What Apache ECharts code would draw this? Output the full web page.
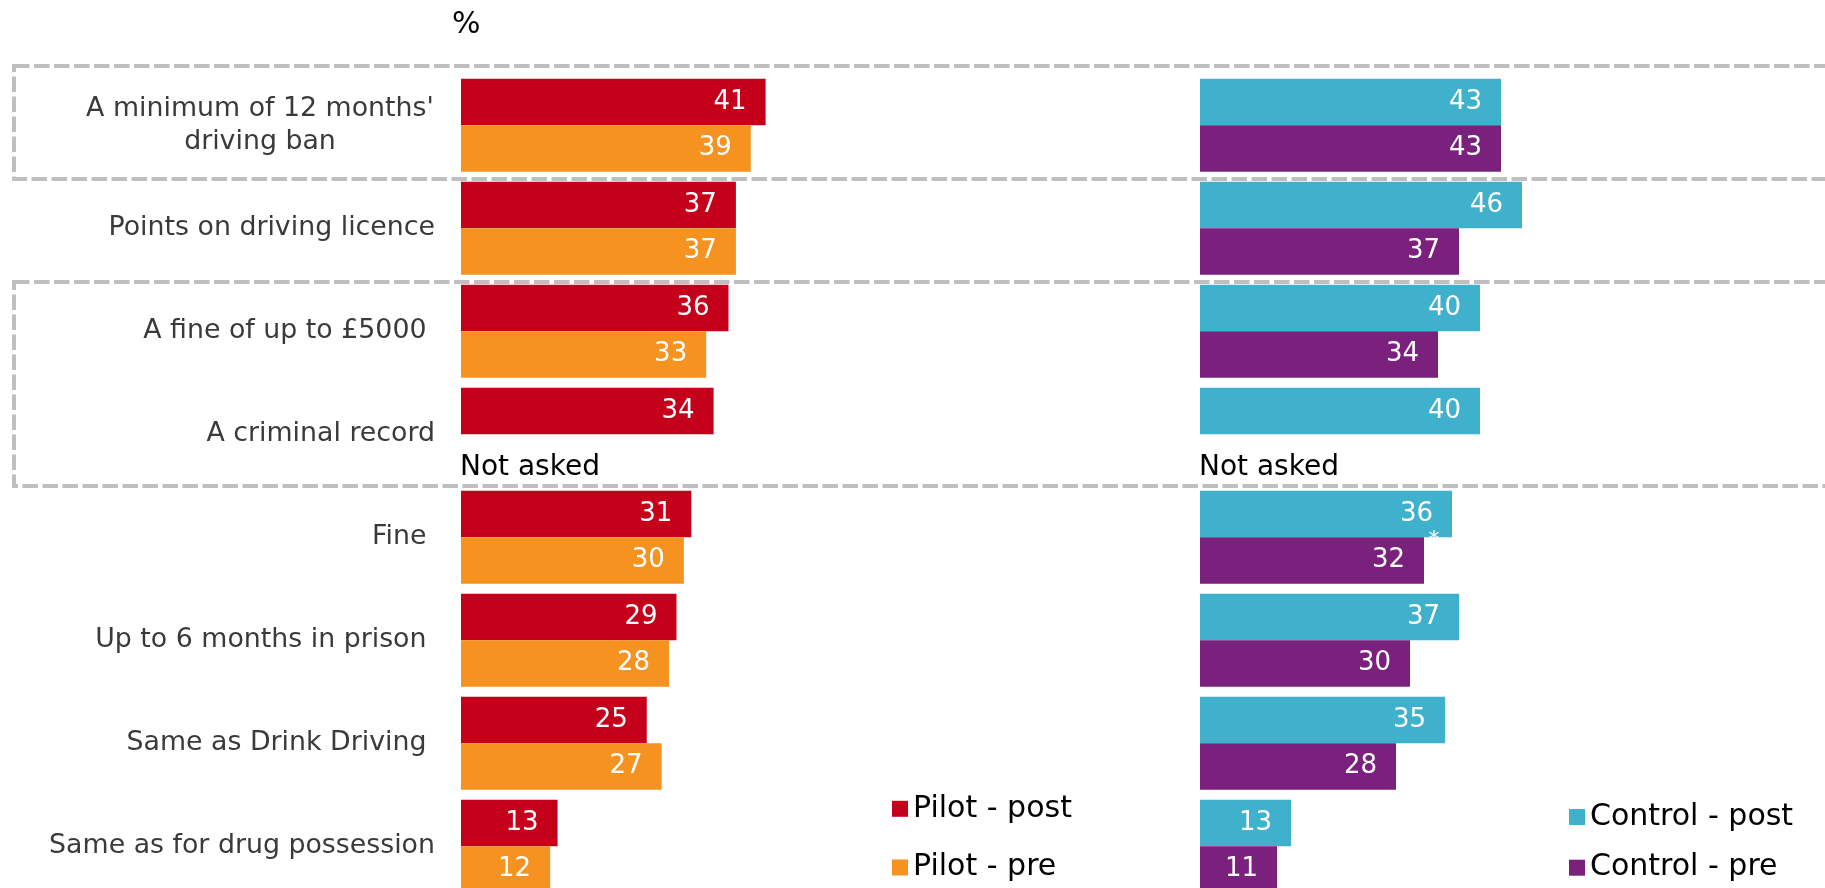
<!DOCTYPE html>
<html>
<head>
<meta charset="utf-8">
<script src="https://cdn.jsdelivr.net/npm/echarts@6/dist/echarts.min.js"></script>
<style>
  html, body { margin: 0; padding: 0; background: #fff; overflow: hidden; }
  #chart { width: 1825px; height: 888px; }
</style>
</head>
<body>
<div id="chart"></div>
<script>
// categories, top to bottom (trailing spaces kept as in the source labels)
const categories = [
  "A minimum of 12 months'\ndriving ban",
  "Points on driving licence",
  "A fine of up to £5000 ",
  "A criminal record",
  "Fine ",
  "Up to 6 months in prison ",
  "Same as Drink Driving ",
  "Same as for drug possession"
];
const pilotPost = [41, 37, 36, 34, 31, 29, 25, 13];
const pilotPre = [39, 37, 33, null, 30, 28, 27, 12];
const controlPost = [43, 46, 40, 40, 36, 37, 35, 13];
const controlPre = [43, 37, 34, null, 32, 30, 28, 11];
const seriesNames = ["Pilot - post", "Pilot - pre", "Control - post", "Control - pre"];
const notAskedText = "Not asked";
const unitLabel = "%";
// significance marker: Control - post, "Fine"
const markedCategory = 4;
const markText = "*";

const FONT = "DejaVu Sans, Verdana, sans-serif";
const COLORS = ["#c4001a", "#f59220", "#3fb1cd", "#79217c"];

const chart = echarts.init(document.getElementById("chart"));

// null means the question was not asked: draw an empty slot with a note
function barData(values) {
  return values.map(v => v === null ? {
    value: 0,
    label: {
      show: true,
      position: "right",
      distance: 0,
      offset: [-1, 10],
      color: "#000",
      fontSize: 28,
      fontFamily: FONT,
      formatter: notAskedText
    }
  } : v);
}

function barSeries(name, values, color, idx) {
  return {
    name: name,
    type: "bar",
    xAxisIndex: idx,
    yAxisIndex: idx,
    barWidth: 46.5,
    barGap: "0%",
    itemStyle: { color: color },
    label: {
      show: true,
      position: "insideRight",
      distance: 19,
      color: "#fff",
      fontSize: 26,
      fontFamily: FONT
    },
    emphasis: { disabled: true },
    animation: false,
    data: barData(values)
  };
}

const legendBase = {
  orient: "vertical",
  itemWidth: 16,
  itemHeight: 16,
  icon: "rect",
  padding: 0,
  selectedMode: false,
  textStyle: { fontSize: 30, color: "#000", fontFamily: FONT, lineHeight: 30 }
};

const option = {
  animation: false,
  textStyle: { fontFamily: FONT },
  grid: [
    { left: 461, top: 73.7, width: 371.5, height: 824, outerBoundsMode: "none" },
    { left: 1200, top: 73.7, width: 350, height: 824, outerBoundsMode: "none" }
  ],
  xAxis: [
    { type: "value", gridIndex: 0, min: 0, max: 50, show: false },
    { type: "value", gridIndex: 1, min: 0, max: 50, show: false }
  ],
  yAxis: [
    {
      type: "category",
      gridIndex: 0,
      data: categories,
      inverse: true,
      axisLine: { show: false },
      axisTick: { show: false },
      axisLabel: {
        margin: 26,
        color: "#3a3a3a",
        fontSize: 26.8,
        fontFamily: FONT,
        formatter: v => v.includes("\n")
          ? v.split("\n").map(s => "{c|" + s + "}").join("\n")
          : v,
        rich: {
          c: { width: 350, align: "center", fontSize: 26.8, lineHeight: 33, color: "#3a3a3a", fontFamily: FONT }
        }
      }
    },
    { type: "category", gridIndex: 1, data: categories, inverse: true, show: false }
  ],
  legend: [
    Object.assign({}, legendBase, { data: seriesNames.slice(0, 2), left: 892, top: 793.8, itemGap: 28.7 }),
    Object.assign({}, legendBase, { data: seriesNames.slice(2, 4), left: 1569, top: 802, itemGap: 20.7 })
  ],
  series: [
    barSeries(seriesNames[0], pilotPost, COLORS[0], 0),
    barSeries(seriesNames[1], pilotPre, COLORS[1], 0),
    barSeries(seriesNames[2], controlPost, COLORS[2], 1),
    barSeries(seriesNames[3], controlPre, COLORS[3], 1)
  ]
};

chart.setOption(option);

// dashed highlight boxes and marker, placed from the axis positions
const cy = i => chart.convertToPixel({ yAxisIndex: 0 }, i);
const band = cy(1) - cy(0);
const boxStyle = { fill: null, stroke: "#bfbfbf", lineWidth: 4, lineDash: [15.5, 4.5] };
const box1Top = Math.round(cy(0) - band / 2 - 8);
const box1Bottom = Math.round(cy(1) - band / 2 + 2);
const box2Top = Math.round(cy(2) - band / 2 + 2);
const box2Bottom = Math.round(cy(3) + band / 2);
const mark = chart.convertToPixel({ gridIndex: 1 }, [controlPost[markedCategory], markedCategory]);

chart.setOption({
  graphic: [
    { type: "rect", z: 0, shape: { x: 14, y: box1Top, width: 1830, height: box1Bottom - box1Top }, style: boxStyle, silent: true },
    { type: "rect", z: 0, shape: { x: 14, y: box2Top, width: 1830, height: box2Bottom - box2Top }, style: boxStyle, silent: true },
    {
      type: "text", z: 100, x: mark[0] - 18, y: mark[1] + 3, silent: true,
      style: { text: markText, fill: "#fff", fontSize: 22, fontFamily: FONT, align: "center", verticalAlign: "middle" }
    },
    {
      type: "text", x: 452, y: 25, silent: true,
      style: { text: unitLabel, fill: "#000", fontSize: 30, fontFamily: FONT, align: "left", verticalAlign: "middle" }
    }
  ]
});
</script>
</body>
</html>
